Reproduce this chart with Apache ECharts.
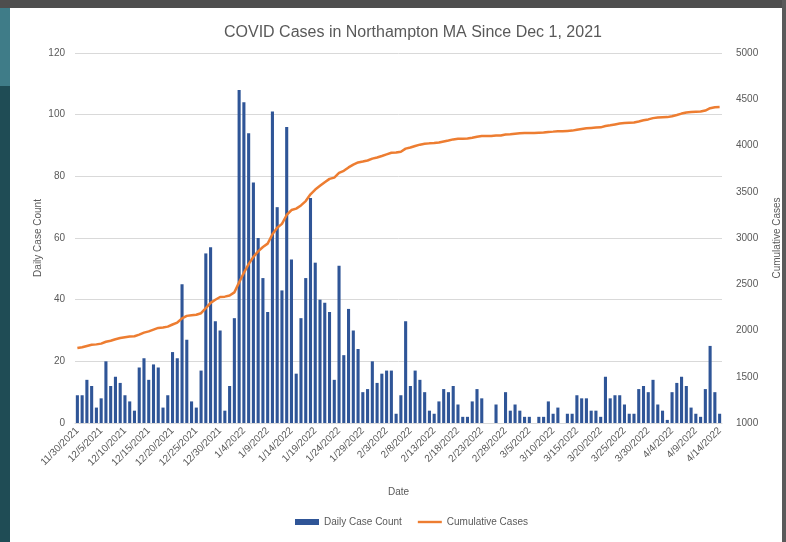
<!DOCTYPE html>
<html>
<head>
<meta charset="utf-8">
<script src="https://cdn.jsdelivr.net/npm/echarts@6/dist/echarts.min.js"></script>
<style>
  html, body { margin: 0; padding: 0; }
  body { width: 786px; height: 542px; background: #1f4c55; position: relative; overflow: hidden; }
  .topbar { position: absolute; left: 0; top: 0; width: 786px; height: 8px; background: #4e4e4e; }
  .lefttop { position: absolute; left: 0; top: 8px; width: 10px; height: 78px; background: #3f7c88; }
  .rightbar { position: absolute; right: 0; top: 0; width: 4px; height: 542px; background: #5a5a5a; }
  #main { position: absolute; left: 10px; top: 8px; width: 772px; height: 534px; background: #fff; }
</style>
</head>
<body>
<div class="topbar"></div>
<div class="lefttop"></div>
<div class="rightbar"></div>
<div id="main"></div>
<script>
// daily counts, 11/30/2021 .. 4/14/2022
var dailyCases = [
  9, 9, 14, 12, 5, 8, 20, 12, 15, 13,
  9, 7, 4, 18, 21, 14, 19, 18, 5, 9,
  23, 21, 45, 27, 7, 5, 17, 55, 57, 33,
  30, 4, 12, 34, 108, 104, 94, 78, 60, 47,
  36, 101, 70, 43, 96, 53, 16, 34, 47, 73,
  52, 40, 39, 36, 14, 51, 22, 37, 30, 24,
  10, 11, 20, 13, 16, 17, 17, 3, 9, 33,
  12, 17, 14, 10, 4, 3, 7, 11, 10, 12,
  6, 2, 2, 7, 11, 8, 0, 0, 6, 0,
  10, 4, 6, 4, 2, 2, 0, 2, 2, 7,
  3, 5, 0, 3, 3, 9, 8, 8, 4, 4,
  2, 15, 8, 9, 9, 6, 3, 3, 11, 12,
  10, 14, 6, 4, 1, 10, 13, 15, 12, 5,
  3, 2, 11, 25, 10, 3
];
// cumulative line
var cumulativeCases = [
  1810, 1819, 1833, 1845, 1850, 1858, 1878, 1890, 1905, 1918,
  1927, 1934, 1938, 1956, 1977, 1991, 2010, 2028, 2033, 2042,
  2065, 2086, 2131, 2158, 2165, 2170, 2187, 2242, 2299, 2332,
  2362, 2366, 2378, 2412, 2520, 2624, 2718, 2796, 2856, 2903,
  2939, 3040, 3110, 3153, 3249, 3302, 3318, 3352, 3399, 3472,
  3524, 3564, 3603, 3639, 3653, 3704, 3726, 3763, 3793, 3817,
  3827, 3838, 3858, 3871, 3887, 3904, 3921, 3924, 3933, 3966,
  3978, 3995, 4009, 4019, 4023, 4026, 4033, 4044, 4054, 4066,
  4072, 4074, 4076, 4083, 4094, 4102, 4102, 4102, 4108, 4108,
  4118, 4122, 4128, 4132, 4134, 4136, 4136, 4138, 4140, 4147,
  4150, 4155, 4155, 4158, 4161, 4170, 4178, 4186, 4190, 4194,
  4196, 4211, 4219, 4228, 4237, 4243, 4246, 4249, 4260, 4272,
  4282, 4296, 4302, 4306, 4307, 4317, 4330, 4345, 4357, 4362,
  4365, 4367, 4378, 4403, 4413, 4416
];

// category labels M/D/YYYY
var dates = [];
var d = new Date(2021, 10, 30);
for (var i = 0; i < dailyCases.length; i++) {
  dates.push((d.getMonth() + 1) + "/" + d.getDate() + "/" + d.getFullYear());
  d.setDate(d.getDate() + 1);
}

var leftTicks = { min: 0, max: 120, step: 20 };
var rightTicks = { min: 1000, max: 5000, step: 500 };

var txt = "#595959";
var fontFam = "'Liberation Sans', Arial, sans-serif";

var myChart = echarts.init(document.getElementById("main"));
var option = {
  animation: false,
  textStyle: { fontFamily: fontFam },
  title: {
    text: "COVID Cases in Northampton MA Since Dec 1, 2021",
    left: 209,
    top: 12,
    textStyle: { color: txt, fontSize: 16, fontWeight: "normal", fontFamily: fontFam }
  },
  legend: {
    bottom: 10,
    left: 280,
    itemGap: 16,
    itemWidth: 24,
    itemHeight: 6,
    textStyle: { color: txt, fontSize: 10 },
    data: [
      { name: "Daily Case Count", icon: "rect" },
      { name: "Cumulative Cases", icon: "path://M0,0 L30,0 L30,3 L0,3 Z" }
    ]
  },
  grid: {
    left: 65,
    right: 60,
    top: 45,
    bottom: 119,
    outerBoundsMode: "none"
  },
  xAxis: {
    type: "category",
    data: dates,
    name: "Date",
    nameLocation: "middle",
    nameGap: 64,
    nameTextStyle: { color: txt, fontSize: 10 },
    axisTick: { show: false },
    axisLine: { lineStyle: { color: "#d9d9d9" } },
    axisLabel: {
      interval: 4,
      rotate: 45,
      color: txt,
      fontSize: 10,
      margin: 6
    }
  },
  yAxis: [
    {
      type: "value",
      min: leftTicks.min,
      max: leftTicks.max,
      interval: leftTicks.step,
      name: "Daily Case Count",
      nameLocation: "middle",
      nameGap: 32,
      nameMoveOverlap: false,
      nameTextStyle: { color: txt, fontSize: 10 },
      axisLabel: { color: txt, fontSize: 10, margin: 10 },
      axisLine: { show: false },
      axisTick: { show: false },
      splitLine: { lineStyle: { color: "#d9d9d9" } }
    },
    {
      type: "value",
      position: "right",
      min: rightTicks.min,
      max: rightTicks.max,
      interval: rightTicks.step,
      name: "Cumulative Cases",
      nameLocation: "middle",
      nameGap: 50,
      nameTextStyle: { color: txt, fontSize: 10 },
      axisLabel: {
        color: txt, fontSize: 10, margin: 14,
        formatter: function (v) { return String(v); }
      },
      axisLine: { show: false },
      axisTick: { show: false },
      splitLine: { show: false }
    }
  ],
  series: [
    {
      name: "Daily Case Count",
      type: "bar",
      barCategoryGap: "35%",
      itemStyle: { color: "#2f5597" },
      data: dailyCases
    },
    {
      name: "Cumulative Cases",
      type: "line",
      yAxisIndex: 1,
      symbol: "none",
      lineStyle: { color: "#ed7d31", width: 2.5 },
      itemStyle: { color: "#ed7d31" },
      data: cumulativeCases
    }
  ]
};
myChart.setOption(option);
</script>
</body>
</html>
